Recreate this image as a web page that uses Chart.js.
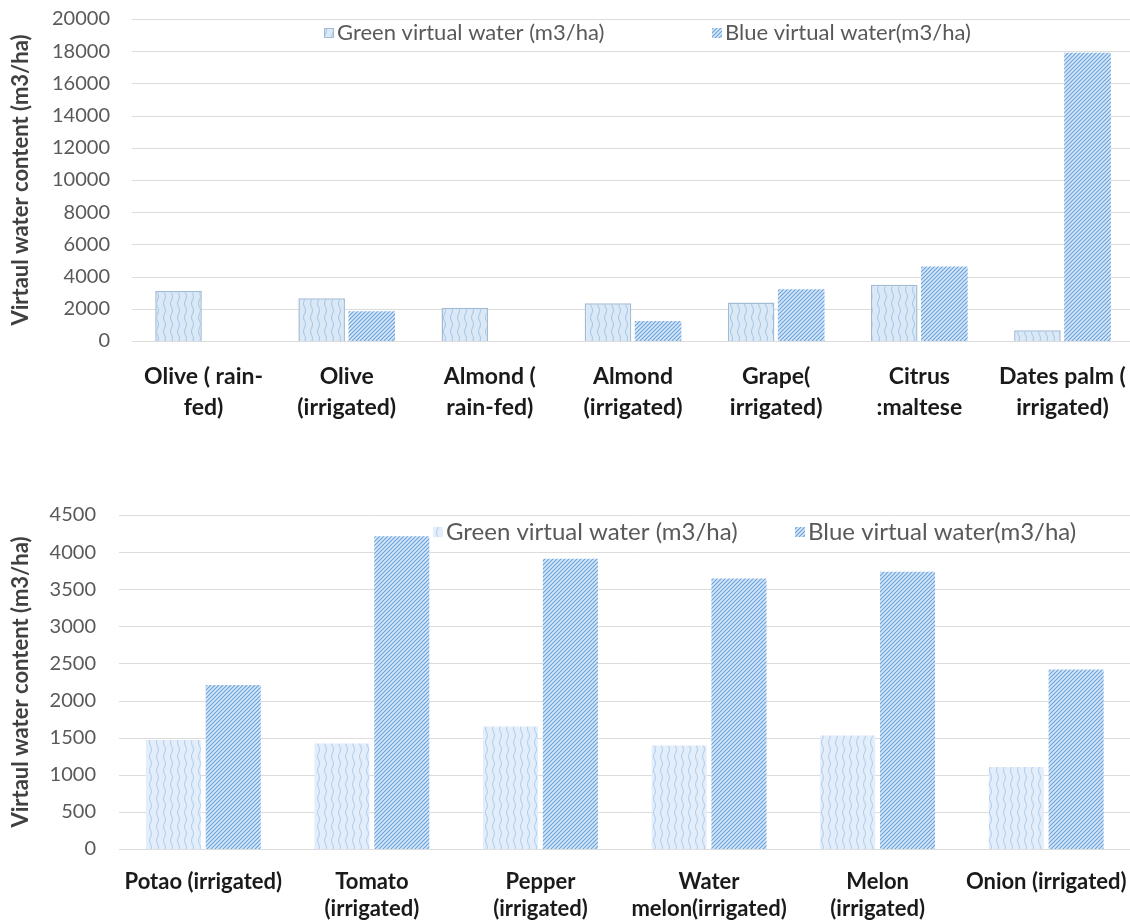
<!DOCTYPE html>
<html>
<head>
<meta charset="utf-8">
<script src="https://cdn.jsdelivr.net/npm/chart.js@4.4.1/dist/chart.umd.min.js"></script>
<style>
  html, body { margin: 0; padding: 0; background: #fff; overflow: hidden; width: 1130px; height: 924px; }
  #top-box { position: absolute; left: 0; top: -15px; width: 1146px; height: 485px; }
  #bottom-box { position: absolute; left: 0; top: 480px; width: 1146px; height: 444px; }
</style>
</head>
<body>
<div id="top-box"><canvas id="top-chart"></canvas></div>
<div id="bottom-box"><canvas id="bottom-chart"></canvas></div>
<script>
const seriesNames = ["Green virtual water (m3/ha)", "Blue virtual water(m3/ha)"];
const axisTitle = "Virtaul water content (m3/ha)";

const topCategories = [
  ["Olive ( rain-", "fed)"], ["Olive", "(irrigated)"], ["Almond (", "rain-fed)"],
  ["Almond", "(irrigated)"], ["Grape(", "irrigated)"], ["Citrus", ":maltese"], ["Dates palm (", "irrigated)"]
];
const topGreen = [3100, 2650, 2060, 2350, 2390, 3500, 660];
const topBlue = [0, 1850, 0, 1240, 3210, 4630, 17900];
const topTicks = { min: 0, max: 20000, step: 2000 };

const bottomCategories = [
  "Potao (irrigated)", ["Tomato", "(irrigated)"], ["Pepper", "(irrigated)"],
  ["Water", "melon(irrigated)"], ["Melon", "(irrigated)"], "Onion (irrigated)"
];
const bottomGreen = [1470, 1420, 1650, 1395, 1530, 1105];
const bottomBlue = [2210, 4215, 3910, 3645, 3735, 2420];
const bottomTicks = { min: 0, max: 4500, step: 500 };

const FONT = "Lato, 'Open Sans', sans-serif";

// fill patterns: light wavy verticals for green, dense diagonal hatch for blue
function wavePattern(bg, line) {
  const c = document.createElement("canvas");
  c.width = 7; c.height = 14;
  const g = c.getContext("2d");
  g.fillStyle = bg;
  g.fillRect(0, 0, 7, 14);
  g.strokeStyle = line;
  g.lineWidth = 1.1;
  g.beginPath();
  g.moveTo(3.5, 0);
  g.quadraticCurveTo(5.5, 3.5, 3.5, 7);
  g.quadraticCurveTo(1.5, 10.5, 3.5, 14);
  g.stroke();
  return g.createPattern(c, "repeat");
}

function hatchPattern(bg, line) {
  const s = 4;
  const c = document.createElement("canvas");
  c.width = s; c.height = s;
  const g = c.getContext("2d");
  g.fillStyle = bg;
  g.fillRect(0, 0, s, s);
  g.strokeStyle = line;
  g.lineWidth = 1.2;
  g.beginPath();
  g.moveTo(-1, s + 1); g.lineTo(s + 1, -1);
  g.moveTo(-1, 1); g.lineTo(1, -1);
  g.moveTo(s - 1, s + 1); g.lineTo(s + 1, s - 1);
  g.stroke();
  return g.createPattern(c, "repeat");
}

// legend drawn inside the plot, the way the source chart has it
const swatchLegend = {
  id: "swatchLegend",
  afterDraw(chart, args, opts) {
    const ctx = chart.ctx;
    ctx.save();
    ctx.font = opts.font;
    ctx.textBaseline = "middle";
    chart.data.datasets.forEach((ds, i) => {
      const x = opts.x[i], y = opts.y;
      ctx.fillStyle = ds.backgroundColor;
      ctx.fillRect(x, y - 5, 10, 10);
      if (ds.borderWidth) {
        ctx.strokeStyle = ds.borderColor;
        ctx.lineWidth = 1;
        ctx.strokeRect(x + 0.5, y - 4.5, 9, 9);
      }
      ctx.fillStyle = "#595959";
      ctx.fillText(ds.label, x + 13, y);
    });
    ctx.restore();
  }
};

// horizontal gridlines running on to the right edge of the picture
const edgeGrid = {
  id: "edgeGrid",
  beforeDatasetsDraw(chart) {
    const ctx = chart.ctx, y = chart.scales.y;
    ctx.save();
    ctx.strokeStyle = "#dcdcdc";
    ctx.lineWidth = 1;
    y.ticks.forEach((t) => {
      const py = Math.round(y.getPixelForValue(t.value)) + 0.5;
      ctx.beginPath();
      ctx.moveTo(chart.chartArea.left, py);
      ctx.lineTo(chart.width, py);
      ctx.stroke();
    });
    ctx.restore();
  }
};

function makeChart(canvasId, cfg) {
  return new Chart(document.getElementById(canvasId), {
    type: "bar",
    data: {
      labels: cfg.labels,
      datasets: [
        {
          label: seriesNames[0], data: cfg.green,
          backgroundColor: wavePattern(cfg.greenBg, cfg.greenLine),
          borderColor: "#a3bcd6", borderWidth: cfg.greenBorder,
          barPercentage: cfg.barPct, categoryPercentage: cfg.catPct
        },
        {
          label: seriesNames[1], data: cfg.blue,
          backgroundColor: hatchPattern("#d8e8f8", "#6aa3dc"),
          borderWidth: 0,
          barPercentage: cfg.barPct, categoryPercentage: cfg.catPct
        }
      ]
    },
    options: {
      responsive: true,
      maintainAspectRatio: false,
      animation: false,
      layout: { padding: cfg.padding },
      plugins: {
        legend: { display: false },
        tooltip: { enabled: false },
        swatchLegend: cfg.legend
      },
      scales: {
        x: {
          grid: { display: false, drawTicks: false },
          border: { display: false },
          ticks: {
            color: "#1a1a1a", padding: cfg.xPad, maxRotation: 0, autoSkip: false,
            font: { family: FONT, size: cfg.xSize, weight: "bold", lineHeight: cfg.xLine }
          },
          afterFit: (s) => { s.height = cfg.xHeight; }
        },
        y: {
          min: cfg.ticks.min, max: cfg.ticks.max,
          grid: { display: false, drawTicks: false },
          border: { display: false },
          ticks: {
            stepSize: cfg.ticks.step, color: "#595959", padding: cfg.yPad,
            font: { family: FONT, size: 20 },
            callback: (v) => String(v)
          },
          title: {
            display: true, text: axisTitle, color: "#404040",
            font: { family: FONT, size: 22, weight: "bold" }, padding: { top: 8, bottom: 0 }
          },
          afterFit: (s) => { s.width = cfg.yWidth; }
        }
      }
    },
    plugins: [edgeGrid, swatchLegend]
  });
}

makeChart("top-chart", {
  labels: topCategories, green: topGreen, blue: topBlue, ticks: topTicks,
  greenBg: "#dbe9f7", greenLine: "#a9c9ea", greenBorder: 1.5,
  barPct: 0.93, catPct: 0.7,
  padding: { top: 3, right: 2, bottom: 0, left: 0 },
  xPad: 20, xSize: 23, xLine: 1.35, xHeight: 129,
  yPad: 22, yWidth: 132,
  legend: { x: [324, 712], y: 48, font: "22px " + FONT }
});

makeChart("bottom-chart", {
  labels: bottomCategories, green: bottomGreen, blue: bottomBlue, ticks: bottomTicks,
  greenBg: "#e3eefa", greenLine: "#b3d0ee", greenBorder: 0,
  barPct: 0.92, catPct: 0.71,
  padding: { top: 33, right: 0, bottom: 0, left: 0 },
  xPad: 19.5, xSize: 22, xLine: 1.23, xHeight: 75,
  yPad: 23, yWidth: 119,
  legend: { x: [433, 795], y: 52, font: "24px " + FONT }
});
</script>
</body>
</html>
